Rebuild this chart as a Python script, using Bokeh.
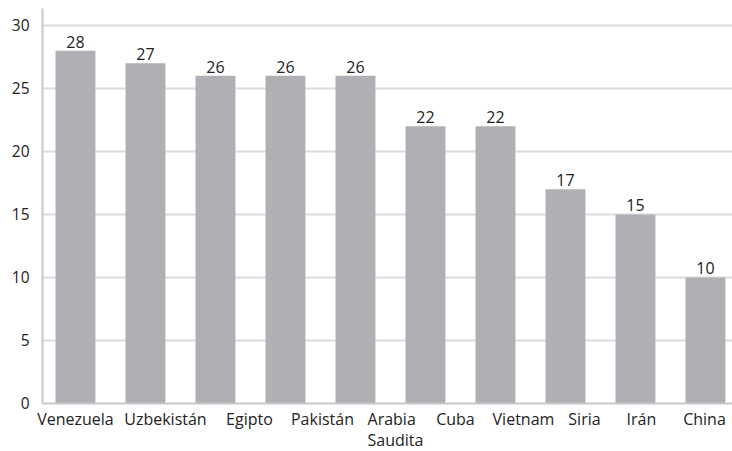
from bokeh.plotting import figure
from bokeh.models import ColumnDataSource, Range1d, LabelSet
from bokeh.core.properties import value
from bokeh.embed import file_html
from bokeh.resources import INLINE

# Countries and their values
countries = ["Venezuela", "Uzbekistán", "Egipto", "Pakistán", "Arabia\nSaudita",
             "Cuba", "Vietnam", "Siria", "Irán", "China"]
values = [28, 27, 26, 26, 26, 22, 22, 17, 15, 10]
y_ticks = [0, 5, 10, 15, 20, 25, 30]

FONT = "Open Sans"
BAR = "#b0afb4"
AXIS = "#c8c8cc"
GRID = "#dcdce0"
TEXT = "#222222"

# value-axis extent and the plotting area's horizontal limits (data units)
Y_MAX = 31.35
X_LEFT, X_RIGHT = -0.471, 9.386
# the canvas also holds the tick labels on the left and the names below zero
VIEW_X = (-1.071, X_RIGHT)
VIEW_Y = (-3.81, 31.98)

# horizontal nudge (px) of each country name so the wide names don't collide
name_nudge_px = [0, 20, 34, 37, 40, 30, 28, 19, 6, -1]

xs = list(range(len(countries)))
src = ColumnDataSource(dict(x=xs, top=values, label=[str(v) for v in values],
                            name=countries, base=[0] * len(xs), nudge=name_nudge_px))
grid_ticks = [t for t in y_ticks if t > 0]
tick_src = ColumnDataSource(dict(y=y_ticks, x=[X_LEFT] * len(y_ticks),
                                 text=[str(t) for t in y_ticks]))

p = figure(width=732, height=451, output_backend="svg", toolbar_location=None,
           x_range=Range1d(*VIEW_X), y_range=Range1d(*VIEW_Y),
           min_border=0, x_axis_location=None, y_axis_location=None)
p.outline_line_color = None
p.grid.visible = False

# horizontal grid lines
p.segment(x0=X_LEFT, x1=X_RIGHT, y0=grid_ticks, y1=grid_ticks,
          line_color=GRID, line_width=2)

p.vbar(x="x", top="top", width=0.57, source=src, color=BAR, line_color=None)

# axis lines
p.segment(x0=X_LEFT, x1=X_RIGHT, y0=0, y1=0, line_color=AXIS, line_width=2)
p.segment(x0=X_LEFT, x1=X_LEFT, y0=0, y1=Y_MAX, line_color=AXIS, line_width=2)

# y tick labels
p.add_layout(LabelSet(x="x", y="y", text="text", source=tick_src, text_align="right",
                      text_baseline="middle", x_offset=-13, text_font=value(FONT),
                      text_font_size="15.5px", text_color=TEXT))

# value labels above the bars
p.add_layout(LabelSet(x="x", y="top", text="label", source=src, text_align="center",
                      text_baseline="bottom", y_offset=3, text_font=value(FONT),
                      text_font_size="16px", text_color=TEXT))

# country names under the zero line
p.add_layout(LabelSet(x="x", y="base", text="name", source=src, text_align="center",
                      text_baseline="top", x_offset="nudge", y_offset=-5,
                      text_font=value(FONT), text_font_size="16px",
                      text_line_height=0.95, text_color=TEXT))

open("out.html", "w").write(file_html(p, INLINE))
